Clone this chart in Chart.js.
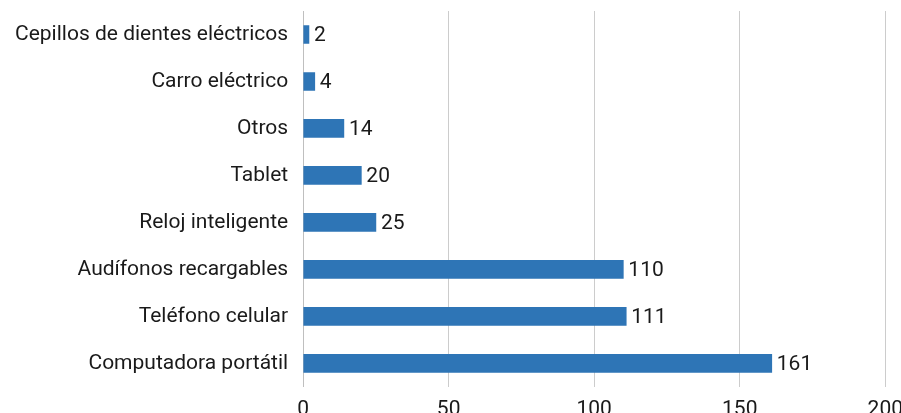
<!DOCTYPE html>
<html>
<head>
<meta charset="utf-8">
<script src="https://cdn.jsdelivr.net/npm/chart.js@4/dist/chart.umd.min.js"></script>
<style>
  html, body { margin: 0; padding: 0; background: #fff; overflow: hidden; width: 901px; height: 413px; }
  #wrap { position: absolute; left: 0; top: 0; width: 913px; height: 432px; }
</style>
</head>
<body>
<div id="wrap"><canvas id="c" width="913" height="432"></canvas></div>
<script>
const categories = [
  "Cepillos de dientes eléctricos",
  "Carro eléctrico",
  "Otros",
  "Tablet",
  "Reloj inteligente",
  "Audífonos recargables",
  "Teléfono celular",
  "Computadora portátil"
];
const values = [2, 4, 14, 20, 25, 110, 111, 161];
const xTicks = [0, 50, 100, 150, 200];

const labelPlugin = {
  id: 'barLabels',
  afterDatasetsDraw(chart) {
    const ctx = chart.ctx;
    const meta = chart.getDatasetMeta(0);
    ctx.save();
    ctx.font = '21px Roboto';
    ctx.fillStyle = '#1a1a1a';
    ctx.textAlign = 'left';
    ctx.textBaseline = 'middle';
    meta.data.forEach((bar, i) => {
      ctx.fillText(String(values[i]), bar.x + 5, bar.y + 1);
    });
    ctx.restore();
  }
};

new Chart(document.getElementById('c'), {
  type: 'bar',
  data: {
    labels: categories,
    datasets: [{
      data: values,
      backgroundColor: '#2E75B6',
      barThickness: 18
    }]
  },
  options: {
    indexAxis: 'y',
    responsive: false,
    animation: false,
    layout: { padding: { left: 0, top: 11, right: 0, bottom: 0 } },
    plugins: { legend: { display: false }, tooltip: { enabled: false } },
    scales: {
      x: {
        min: 0, max: 200,
        afterBuildTicks(axis) { axis.ticks = xTicks.map(v => ({ value: v })); },
        grid: { color: '#cccccc', drawTicks: false },
        border: { display: false },
        ticks: { font: { family: 'Roboto', size: 21 }, color: '#1a1a1a', padding: 10, maxRotation: 0 }
      },
      y: {
        afterFit(scale) { scale.paddingTop = 0; scale.paddingBottom = 0; },
        grid: { display: false, drawTicks: false },
        border: { display: true, color: '#bfbfbf' },
        ticks: { font: { family: 'Roboto', size: 21 }, color: '#1a1a1a', padding: 15 }
      }
    }
  },
  plugins: [labelPlugin]
});
</script>
</body>
</html>
